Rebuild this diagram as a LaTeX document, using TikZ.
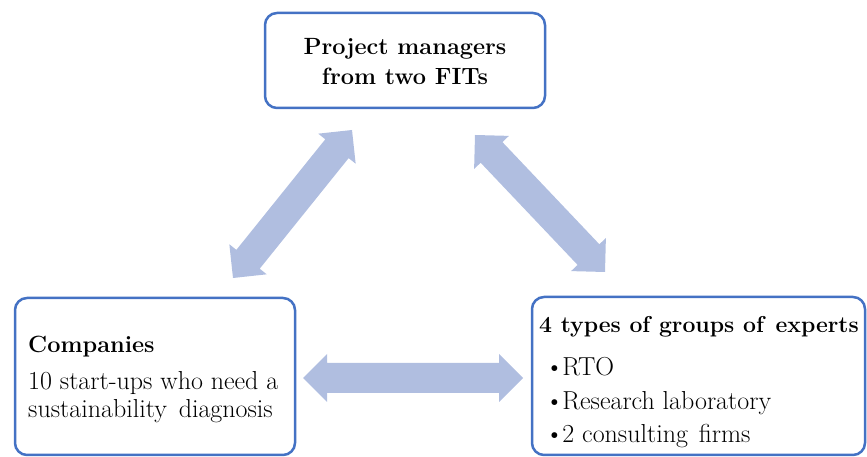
\documentclass[tikz,border=0pt]{standalone}
\usepackage{fontspec}
\usetikzlibrary{calc}
\definecolor{boxblue}{HTML}{4472C4}
\definecolor{arrowblue}{HTML}{B0BEE0}
\newcommand{\dblarrow}[2]{%
  \coordinate (p0) at (#1);
  \coordinate (p1) at (#2);
  \coordinate (ha) at ($(p0)!24pt!(p1)$);
  \coordinate (hb) at ($(p1)!24pt!(p0)$);
  \fill[arrowfill] (p0) -- ($(ha)!24pt!90:(p1)$) -- ($(ha)!15pt!90:(p1)$)
    -- ($(hb)!15pt!-90:(p0)$) -- ($(hb)!24pt!-90:(p0)$) -- (p1)
    -- ($(hb)!24pt!90:(p0)$) -- ($(hb)!15pt!90:(p0)$)
    -- ($(ha)!15pt!-90:(p1)$) -- ($(ha)!24pt!-90:(p1)$) -- cycle;}
\newcommand{\bul}{\textbullet\kern-1.5pt}
\tikzset{
  box/.style={draw=boxblue, line width=2.5pt, rounded corners=12pt},
  arrowfill/.style={fill=arrowblue},
  boldtxt/.style={inner sep=0pt, font=\fontsize{23.5}{28}\selectfont\bfseries},
  regtxt/.style={inner sep=0pt, font=\fontsize{26}{30}\selectfont},
}
\begin{document}
\begin{tikzpicture}[x=1pt,y=1pt]
\useasboundingbox (0,0) rectangle (867,457);
% boxes
\draw[box] (265,349) rectangle (545,444);
\draw[box] (15,2) rectangle (295,159);
\draw[box] (532,2) rectangle (865,160);
% top text
\node[boldtxt, anchor=base] (t1) at (405,402) {Project managers};
\node[boldtxt, anchor=base] (t2) at (405,372) {from two FITs};
% left text
\node[boldtxt, anchor=base west] (l1) at (28,104) {Companies};
\node[regtxt, anchor=base west] (l2) at (28,67) {10 start-ups who need a};
\node[regtxt, anchor=base west] (l3) at (28,39) {sustainability\hspace{4pt} diagnosis};
% right text
\node[boldtxt, anchor=base west, font=\fontsize{23}{28}\selectfont\bfseries] (r1) at (539,124) {4 types of groups of\hspace{3pt} experts};
\node[regtxt, anchor=base west] (r2) at (545,81) {\bul RTO};
\node[regtxt, anchor=base west] (r3) at (545,47) {\bul Research laboratory};
\node[regtxt, anchor=base west] (r4) at (545,14) {\bul 2 consulting\hspace{3pt} firms};
% arrows
\coordinate (a1) at (233,179);
\coordinate (a2) at (352,327);
\coordinate (b1) at (475,322);
\coordinate (b2) at (605,185);
\coordinate (c1) at (303,79);
\coordinate (c2) at (523,79);
\dblarrow{a1}{a2}
\dblarrow{b1}{b2}
\dblarrow{c1}{c2}
\end{tikzpicture}
\end{document}
